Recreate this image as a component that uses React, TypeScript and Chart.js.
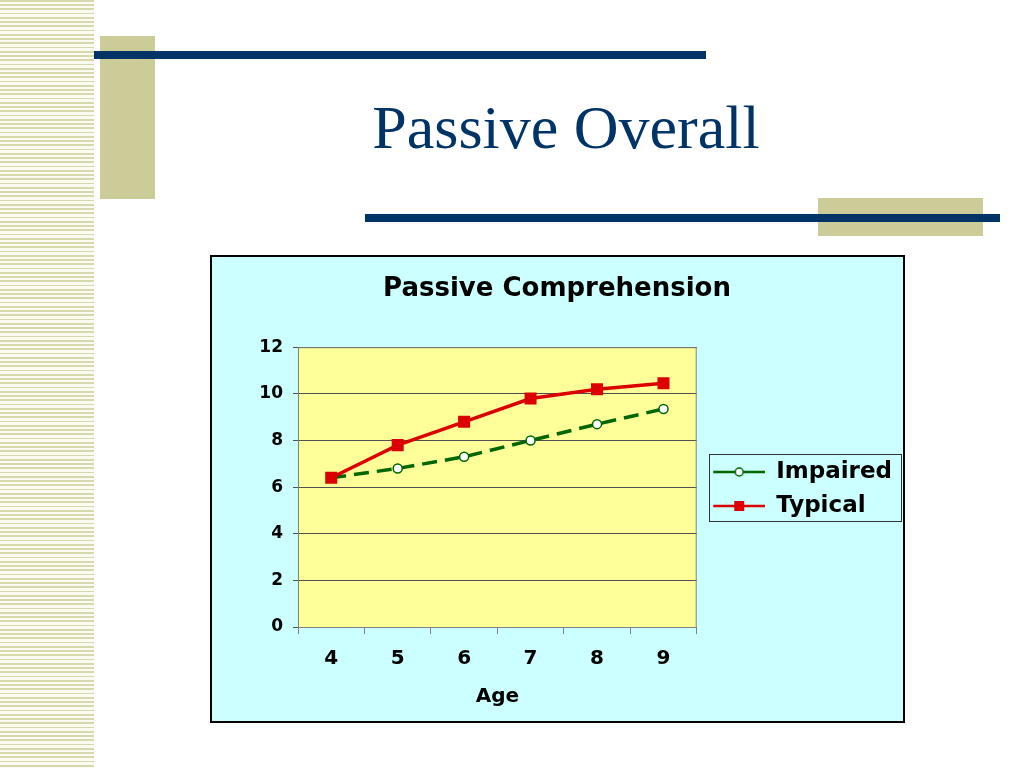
import { useEffect, useRef } from "react";
import { Chart, registerables } from "chart.js";

Chart.register(...registerables);

const slideTitle = "Passive Overall";
const chartTitle = "Passive Comprehension";
const xAxisTitle = "Age";
const ages = ["4", "5", "6", "7", "8", "9"];
const seriesNames = ["Impaired", "Typical"];
const impairedValues = [6.4, 6.8, 7.3, 8.0, 8.7, 9.35];
const typicalValues = [6.4, 7.8, 8.8, 9.8, 10.2, 10.45];
const yTickValues = [0, 2, 4, 6, 8, 10, 12];

const NAVY = "#003366";
const KHAKI = "#CCCC99";
const GREEN = "#006600";
const RED = "#DD0000";
const FONT = "'DejaVu Sans', Verdana, sans-serif";

function makeLegendIcon(kind: "circle" | "square", color: string) {
  const c = document.createElement("canvas");
  c.width = 58;
  c.height = 16;
  const ctx = c.getContext("2d")!;
  ctx.strokeStyle = color;
  ctx.lineWidth = 2.5;
  ctx.beginPath();
  ctx.moveTo(6, 8);
  ctx.lineTo(58, 8);
  ctx.stroke();
  if (kind === "circle") {
    ctx.beginPath();
    ctx.arc(32, 8, 4, 0, Math.PI * 2);
    ctx.fillStyle = "#FFFFFF";
    ctx.fill();
    ctx.lineWidth = 1.5;
    ctx.stroke();
  } else {
    ctx.fillStyle = color;
    ctx.fillRect(27, 3, 10, 10);
  }
  return c;
}

const chartDecor = {
  id: "chartDecor",
  beforeDraw(chart: any) {
    const { ctx, chartArea: a } = chart;
    ctx.save();
    ctx.fillStyle = "#FFFF99";
    ctx.fillRect(a.left, a.top, a.right - a.left, a.bottom - a.top);
    ctx.restore();
  },
  beforeDatasetsDraw(chart: any) {
    const { ctx, chartArea: a } = chart;
    ctx.save();
    ctx.strokeStyle = "#808080";
    ctx.lineWidth = 1;
    ctx.strokeRect(a.left + 0.5, a.top + 0.5, a.right - a.left - 1, a.bottom - a.top);
    ctx.restore();
  },
  afterDraw(chart: any) {
    const lg = chart.legend;
    const hb = lg && lg.legendHitBoxes;
    if (!hb || !hb.length) return;
    const left = Math.min(...hb.map((h: any) => h.left)) + 1;
    const right = Math.max(...hb.map((h: any) => h.left + h.width)) + 9;
    const top = hb[0].top - 7;
    const last = hb[hb.length - 1];
    const bottom = last.top + last.height + 3;
    const ctx = chart.ctx;
    ctx.save();
    ctx.strokeStyle = "#333333";
    ctx.lineWidth = 1;
    ctx.strokeRect(Math.round(left) + 0.5, Math.round(top) + 0.5, Math.round(right - left), Math.round(bottom - top));
    ctx.restore();
  },
};

function PassiveChart() {
  const ref = useRef<HTMLCanvasElement | null>(null);
  useEffect(() => {
    if (!ref.current) return;
    const icons = [makeLegendIcon("circle", GREEN), makeLegendIcon("square", RED)];
    const chart = new Chart(ref.current, {
      type: "line",
      data: {
        labels: ages,
        datasets: [
          {
            label: seriesNames[0],
            data: impairedValues,
            order: 1,
            borderColor: GREEN,
            borderWidth: 3.5,
            borderDash: [15, 8],
            pointStyle: "circle",
            pointRadius: 4.5,
            pointBorderWidth: 1.5,
            pointBackgroundColor: "#FFFFFF",
            pointBorderColor: GREEN,
            tension: 0,
          },
          {
            label: seriesNames[1],
            data: typicalValues,
            order: 0,
            borderColor: RED,
            borderWidth: 3.5,
            pointStyle: "rect",
            pointRadius: 8.5,
            pointBackgroundColor: RED,
            pointBorderColor: RED,
            pointBorderWidth: 0,
            tension: 0,
          },
        ],
      },
      options: {
        animation: false,
        responsive: false,
        maintainAspectRatio: false,
        layout: { padding: { left: 0, right: 1, top: 0, bottom: 0 } },
        plugins: {
          tooltip: { enabled: false },
          title: {
            display: true,
            text: chartTitle,
            color: "#000000",
            font: { family: FONT, size: 26, weight: "bold", lineHeight: 1.2 },
            padding: { top: 17, bottom: 42 },
          },
          legend: {
            display: true,
            position: "right",
            align: "center",
            maxWidth: 320,
            labels: {
              usePointStyle: true,
              pointStyleWidth: 57,
              padding: 11,
              color: "#000000",
              font: { family: FONT, size: 23, weight: "bold" },
              generateLabels: (ch: any) =>
                ch.data.datasets.map((ds: any, i: number) => ({
                  text: ds.label,
                  fillStyle: ds.borderColor,
                  strokeStyle: ds.borderColor,
                  lineWidth: 0,
                  pointStyle: icons[i],
                  hidden: false,
                  datasetIndex: i,
                  fontColor: "#000000",
                })),
            },
          },
        },
        scales: {
          x: {
            type: "category",
            offset: true,
            grid: {
              offset: true,
              drawOnChartArea: false,
              drawTicks: true,
              tickLength: 7,
              color: "#808080",
            },
            border: { display: true, color: "#808080", width: 1 },
            ticks: {
              color: "#000000",
              padding: 13,
              font: { family: FONT, size: 20, weight: "bold", lineHeight: 1.2 },
            },
            title: {
              display: true,
              text: xAxisTitle,
              color: "#000000",
              font: { family: FONT, size: 20, weight: "bold", lineHeight: 1.2 },
              padding: { top: 1, bottom: 12 },
            },
          },
          y: {
            min: yTickValues[0],
            max: yTickValues[yTickValues.length - 1],
            afterFit: (scale: any) => {
              scale.width = 86;
            },
            afterBuildTicks: (scale: any) => {
              scale.ticks = yTickValues.map((v) => ({ value: v }));
            },
            grid: {
              color: "#505050",
              lineWidth: 1,
              drawTicks: true,
              tickLength: 5,
            },
            border: { display: true, color: "#808080", width: 1 },
            ticks: {
              color: "#000000",
              padding: 10,
              font: { family: FONT, size: 17, weight: "bold" },
            },
          },
        },
      },
      plugins: [chartDecor],
    } as any);
    return () => chart.destroy();
  }, []);
  return <canvas ref={ref} width={691} height={464} style={{ width: 691, height: 464, display: "block" }} />;
}

export default function App() {
  useEffect(() => {
    document.body.style.margin = "0";
  }, []);
  return (
    <div style={{ position: "absolute", left: 0, top: 0, width: 1024, height: 768, background: "#FFFFFF", overflow: "hidden" }}>
      <div
        style={{
          position: "absolute",
          left: 0,
          top: 0,
          width: 94,
          height: 768,
          background:
            "repeating-linear-gradient(to bottom, #D8D8AE 0px, #D8D8AE 1.6px, #FBFBF1 1.6px, #FBFBF1 4.25px)",
        }}
      />
      <div style={{ position: "absolute", left: 100, top: 36, width: 55, height: 163, background: KHAKI }} />
      <div style={{ position: "absolute", left: 94, top: 51, width: 612, height: 8, background: NAVY }} />
      <div
        style={{
          position: "absolute",
          left: 266,
          top: 96,
          width: 600,
          textAlign: "center",
          whiteSpace: "nowrap",
          fontFamily: "'Liberation Serif', 'Times New Roman', serif",
          fontSize: 62,
          lineHeight: "62px",
          color: NAVY,
        }}
      >
        {slideTitle}
      </div>
      <div style={{ position: "absolute", left: 818, top: 198, width: 165, height: 38, background: KHAKI }} />
      <div style={{ position: "absolute", left: 365, top: 214, width: 635, height: 8, background: NAVY }} />
      <div
        style={{
          position: "absolute",
          left: 210,
          top: 255,
          width: 695,
          height: 468,
          boxSizing: "border-box",
          border: "2px solid #000000",
          background: "#CCFFFF",
        }}
      >
        <PassiveChart />
      </div>
    </div>
  );
}
